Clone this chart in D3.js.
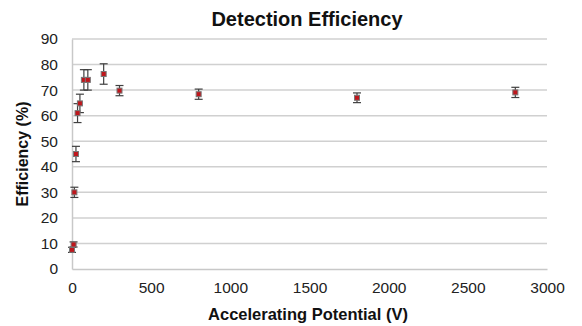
<!DOCTYPE html>
<html>
<head>
<meta charset="utf-8">
<script src="https://cdn.jsdelivr.net/npm/d3@7"></script>
<style>
  html, body { margin: 0; padding: 0; background: #fff; }
  svg { display: block; font-family: "Liberation Sans", Arial, sans-serif; }
</style>
</head>
<body>
<svg id="chart" width="582" height="326"></svg>
<script>
// Accelerating potential (V), measured efficiency (%) and its uncertainty (±%)
const potentials = [0, 10, 15, 25, 35, 50, 75, 100, 200, 300, 800, 1800, 2800];
const efficiency = [7.5, 9.6, 30, 45, 61, 64.8, 74, 74, 76.3, 69.8, 68.4, 67, 69.1];
const uncertainty = [1, 1, 2, 3, 3.7, 3.6, 4, 4, 4, 2, 2, 1.9, 2];
const xTicks = [0, 500, 1000, 1500, 2000, 2500, 3000];
const yTicks = [0, 10, 20, 30, 40, 50, 60, 70, 80, 90];

const data = potentials.map((v, i) => ({ v, e: efficiency[i], err: uncertainty[i] }));

const svg = d3.select("#chart");
const margin = { left: 72, right: 35, top: 39, bottom: 57 };
const W = 582, H = 326;

const x = d3.scaleLinear().domain([0, 3000]).range([margin.left, W - margin.right]);
const y = d3.scaleLinear().domain([0, 90]).range([H - margin.bottom, margin.top]);

// horizontal gridlines
svg.append("g")
  .selectAll("line")
  .data(yTicks.filter(t => t > 0))
  .join("line")
  .attr("x1", x(0)).attr("x2", x(3000))
  .attr("y1", d => y(d)).attr("y2", d => y(d))
  .attr("stroke", "#d0d0d0").attr("stroke-width", 1.5);

// y axis
const yAxis = svg.append("g")
  .attr("transform", `translate(${x(0)},0)`)
  .call(d3.axisLeft(y).tickValues(yTicks).tickSize(0).tickPadding(14));
yAxis.select(".domain").attr("stroke", "#c8c8c8").attr("stroke-width", 1.5);
yAxis.selectAll("text").attr("font-size", 15.5).attr("fill", "#222")
  .attr("font-family", "Liberation Sans, Arial, sans-serif");

// x axis
const xAxis = svg.append("g")
  .attr("transform", `translate(0,${y(0)})`)
  .call(d3.axisBottom(x).tickValues(xTicks).tickSize(0).tickPadding(13).tickFormat(d3.format("d")));
xAxis.select(".domain").attr("stroke", "#c8c8c8").attr("stroke-width", 1.5);
xAxis.selectAll("text").attr("font-size", 15.5).attr("fill", "#222")
  .attr("font-family", "Liberation Sans, Arial, sans-serif");

// error bars
const eb = svg.append("g").attr("stroke", "#404040").attr("stroke-width", 1.2);
eb.selectAll("line.v").data(data).join("line")
  .attr("x1", d => x(d.v)).attr("x2", d => x(d.v))
  .attr("y1", d => y(d.e - d.err)).attr("y2", d => y(d.e + d.err));
eb.selectAll("line.top").data(data).join("line")
  .attr("x1", d => x(d.v) - 4).attr("x2", d => x(d.v) + 4)
  .attr("y1", d => y(d.e + d.err)).attr("y2", d => y(d.e + d.err));
eb.selectAll("line.bot").data(data).join("line")
  .attr("x1", d => x(d.v) - 4).attr("x2", d => x(d.v) + 4)
  .attr("y1", d => y(d.e - d.err)).attr("y2", d => y(d.e - d.err));

// markers
svg.append("g").selectAll("rect").data(data).join("rect")
  .attr("x", d => x(d.v) - 2.5).attr("y", d => y(d.e) - 2.5)
  .attr("width", 5).attr("height", 5)
  .attr("fill", "#c0161c").attr("stroke", "#777").attr("stroke-width", 1);

// titles
svg.append("text")
  .attr("x", 307).attr("y", 26)
  .attr("text-anchor", "middle")
  .attr("font-size", 20).attr("font-weight", "bold").attr("fill", "#111")
  .text("Detection Efficiency");

svg.append("text")
  .attr("x", 308).attr("y", 320)
  .attr("text-anchor", "middle")
  .attr("font-size", 16.5).attr("font-weight", "bold").attr("fill", "#111")
  .text("Accelerating Potential (V)");

svg.append("text")
  .attr("transform", `translate(28,${(y(0) + y(90)) / 2}) rotate(-90)`)
  .attr("text-anchor", "middle")
  .attr("font-size", 16).attr("font-weight", "bold").attr("fill", "#111")
  .text("Efficiency (%)");
</script>
</body>
</html>
